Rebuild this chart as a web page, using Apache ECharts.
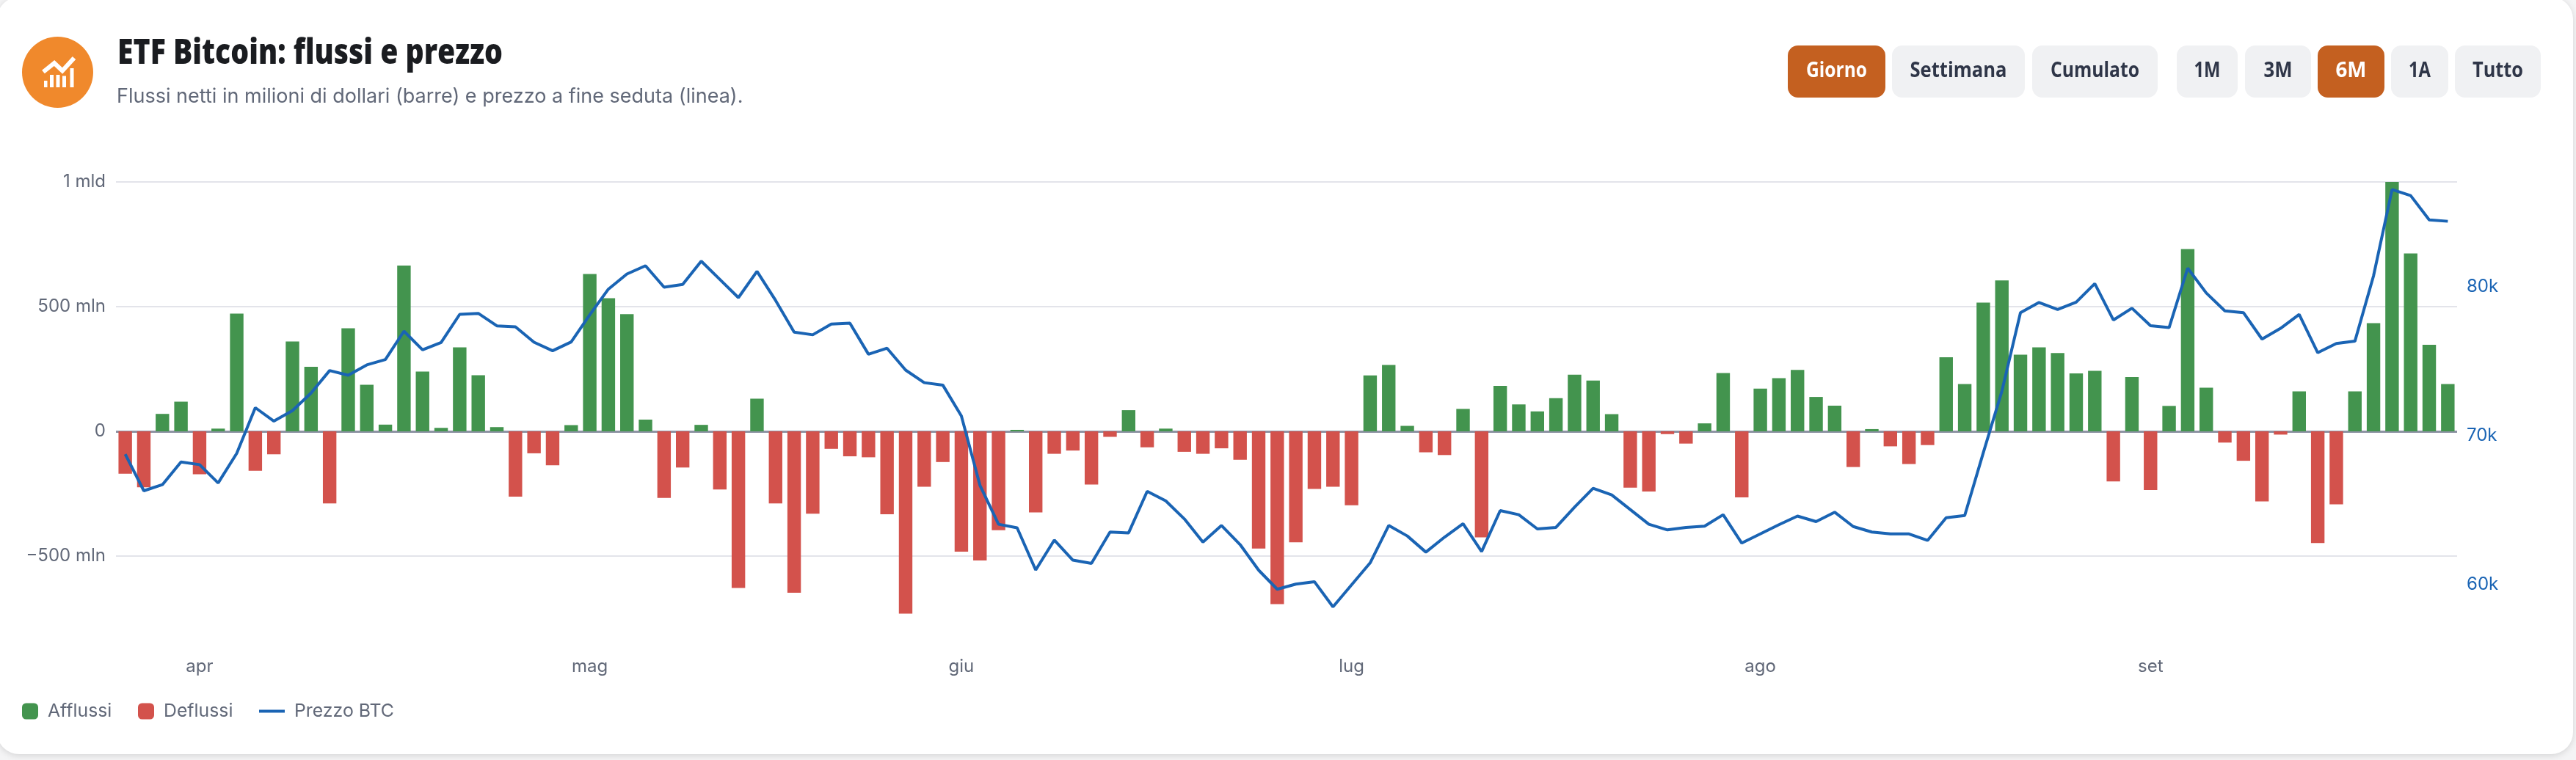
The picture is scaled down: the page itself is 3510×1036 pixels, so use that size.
<!DOCTYPE html>
<html><head><meta charset="utf-8">
<style>
html,body{margin:0;padding:0;width:3510px;height:1036px;background:#f4f4f5;overflow:hidden}
#card{position:absolute;left:-4px;top:-4px;width:3510px;height:1032px;background:#fff;border-radius:30px;box-shadow:0 2px 10px rgba(0,0,0,.13)}
#chart{position:absolute;left:0;top:0;width:3510px;height:1036px}
</style>
<script src="https://cdn.jsdelivr.net/npm/echarts@6/dist/echarts.min.js"></script>
</head><body><div id="card"></div><div id="chart"></div>
<script>
const flows=[-170,-224,70,119,-172,11,472,-158,-92,360,259,-289,413,187,27,665,240,14,337,225,17,-262,-88,-136,25,631,534,470,47,-267,-145,26,-233,-628,131,-289,-647,-330,-70,-100,-104,-332,-731,-222,-123,-482,-518,-396,6,-325,-90,-77,-213,-22,85,-64,11,-82,-90,-68,-114,-470,-693,-445,-231,-222,-296,224,266,22,-84,-95,90,-425,182,108,80,133,227,204,69,-226,-241,-11,-49,32,234,-265,171,213,246,138,103,-143,9,-60,-131,-55,297,190,516,605,307,337,314,232,243,-201,218,-235,102,731,175,-45,-118,-281,-13,160,-448,-293,160,434,1000,713,347,190];
const prices=[68755,66298,66708,68231,68050,66822,68804,71867,70966,71671,72850,74357,74046,74734,75094,76994,75749,76241,78124,78190,77354,77289,76257,75684,76273,78092,79811,80827,81384,79944,80124,81689,80465,79242,81007,79061,76935,76754,77477,77537,75450,75852,74387,73545,73384,71318,66664,64056,63816,60987,62993,61649,61428,63535,63474,66263,65621,64414,62858,63972,62694,60974,59697,60041,60204,58517,59992,61466,63972,63268,62186,63186,64087,62220,64971,64693,63742,63841,65200,66462,66019,65037,64054,63677,63841,63923,64693,62793,63408,64022,64601,64233,64864,63899,63531,63408,63408,62969,64496,64636,68849,72973,78238,78922,78448,78940,80186,77746,78536,77360,77237,81221,79554,78361,78238,76465,77185,78115,75553,76167,76325,80695,86486,86083,84451,84363];
const monthNames=['apr','mag','giu','lug','ago','set'];
const monthIndex=[4,25,45,66,88,109];
const flowTicks=[-500,0,500,1000];
const priceTicks=[60000,70000,80000];
const rangeButtons=[['Giorno',2436,133,83,true],['Settimana',2578,181,132,false],['Cumulato',2769,171,121,false],['1M',2966,83,36,false],['3M',3059,90,39,false],['6M',3158,91,42,true],['1A',3258,78,30,false],['Tutto',3345,117,69,false]];

const categories=flows.map(()=> '');
monthIndex.forEach((k,i)=>{categories[k]=monthNames[i]});
const inflow=flows.map(v=>v>0?v:null), outflow=flows.map(v=>v<0?v:null);
const GREEN='#43944e',RED='#d3524c',BLUE='#1a64b4',GREY='#616878';
const font='Inter';
const mctx=document.createElement('canvas').getContext('2d');
function fit(text,f,target){mctx.font=f;return target/mctx.measureText(text).width;}
const chart=echarts.init(document.getElementById('chart'),null,{renderer:'canvas'});
const titleFont='800 47px "Open Sans"';
const titleText='ETF Bitcoin: flussi e prezzo';
const graphics=[
 {type:'circle',shape:{cx:78.5,cy:98.5,r:48.5},style:{fill:'#f0892c'}},
 {type:'polyline',shape:{points:[[59,98],[74,86],[85,96.5],[101,79]]},style:{fill:'none',stroke:'#fff',lineWidth:6}},
 {type:'rect',shape:{x:60,y:110,width:4.5,height:9},style:{fill:'#fff'}},
 {type:'rect',shape:{x:68,y:102,width:5,height:17},style:{fill:'#fff'}},
 {type:'rect',shape:{x:76.5,y:102,width:5,height:17},style:{fill:'#fff'}},
 {type:'rect',shape:{x:85,y:103.5,width:5,height:15.5},style:{fill:'#fff'}},
 {type:'rect',shape:{x:95.5,y:93,width:5,height:26},style:{fill:'#fff'}},
 {type:'text',x:160,y:74,scaleX:fit(titleText,titleFont,525),style:{text:titleText,align:'left',verticalAlign:'middle',font:titleFont,fill:'#1a1c20'}}
];
rangeButtons.forEach(([t,x,w,tw,on])=>{
 const f='700 29px "Open Sans"';
 graphics.push({type:'rect',shape:{x:x,y:62,width:w,height:71,r:14},style:{fill:on?'#c46020':'#f0f1f3'}});
 graphics.push({type:'text',x:x+w/2,y:97,scaleX:fit(t,f,tw),style:{text:t,align:'center',verticalAlign:'middle',font:f,fill:on?'#fff':'#2f3648'}});
});
const legendText={fontFamily:font,fontSize:24.8,color:GREY,padding:[0,0,0,8]};
chart.setOption({
 animation:false,
 title:[
  {text:'Flussi netti in milioni di dollari (barre) e prezzo a fine seduta (linea).',left:159,top:118,padding:0,textStyle:{fontFamily:font,fontWeight:'normal',fontSize:27,color:GREY}}
 ],
 legend:[
  {data:[{name:'Afflussi',icon:'roundRect'}],left:30,top:957,itemWidth:22,itemHeight:22,textStyle:legendText,padding:0,selectedMode:false},
  {data:[{name:'Deflussi',icon:'roundRect'}],left:188,top:957,itemWidth:22,itemHeight:22,textStyle:legendText,padding:0,selectedMode:false},
  {data:[{name:'Prezzo BTC',icon:'rect'}],left:353,top:957,itemWidth:35,itemHeight:4,textStyle:legendText,padding:0,selectedMode:false}
 ],
 grid:{left:158,right:162,top:248,height:629,containLabel:false},
 xAxis:{type:'category',data:categories,boundaryGap:true,axisLine:{show:false},axisTick:{show:false},
   axisLabel:{interval:0,margin:20,fontFamily:font,fontSize:24,color:GREY},splitLine:{show:false}},
 yAxis:[
  {type:'value',min:-850,max:1000,axisLine:{show:false},axisTick:{show:false,customValues:flowTicks},
   axisLabel:{customValues:flowTicks,margin:14,fontFamily:font,fontSize:24,color:GREY,
     formatter:v=>v===0?'0':v===1000?'1 mld':(v<0?'\u2212':'')+Math.abs(v)+' mln'},
   splitLine:{show:true,lineStyle:{color:'#e3e4ea',width:2}}},
  {type:'value',position:'right',min:56070,max:87000,axisLine:{show:false},axisTick:{show:false,customValues:priceTicks},
   axisLabel:{customValues:priceTicks,margin:13,fontFamily:font,fontSize:24,color:BLUE,formatter:v=>(v/1000)+'k'},splitLine:{show:false}}
 ],
 series:[
  {name:'Afflussi',type:'bar',data:inflow,stack:'f',barWidth:18.4,itemStyle:{color:GREEN},z:3,
   markLine:{silent:true,symbol:'none',label:{show:false},z:1,lineStyle:{color:'#8d93a3',width:3,type:'solid'},data:[{yAxis:0}]}},
  {name:'Deflussi',type:'bar',data:outflow,stack:'f',barWidth:18.4,itemStyle:{color:RED},z:3},
  {name:'Prezzo BTC',type:'line',yAxisIndex:1,data:prices,showSymbol:false,symbol:'none',smooth:false,lineStyle:{color:BLUE,width:4},itemStyle:{color:BLUE},z:5}
 ],
 graphic:graphics
});
</script></body></html>
